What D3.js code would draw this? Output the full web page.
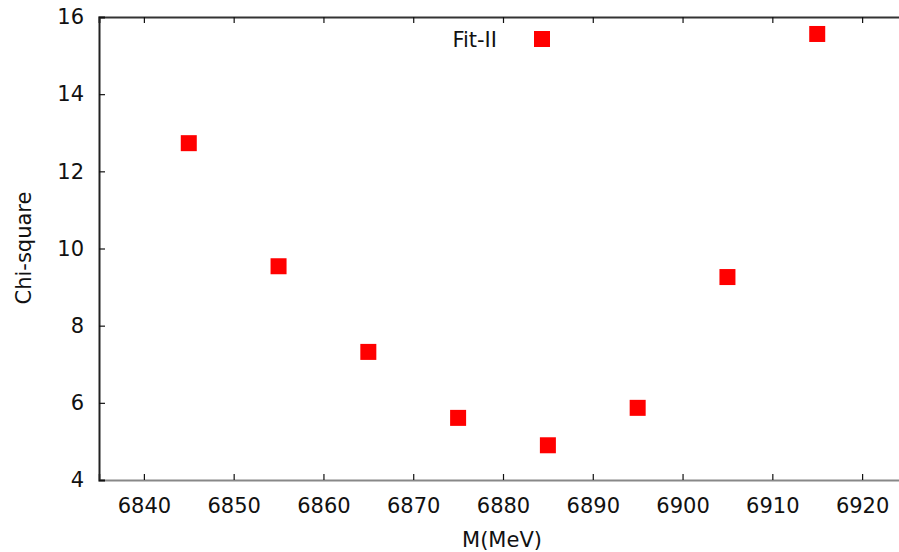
<!DOCTYPE html>
<html lang="en">
<head>
    <meta charset="UTF-8">
    <script src="https://d3js.org/d3.v7.min.js"></script>
    <style>
        body { margin: 0; background: #fff; }
        text { font-family: "DejaVu Sans", sans-serif; fill: #111; }
    </style>
</head>
<body>
<div id="chart"></div>
<script>
    // data
    var masses = [6845, 6855, 6865, 6875, 6885, 6895, 6905, 6915];
    var chiSquare = [12.73, 9.54, 7.32, 5.61, 4.90, 5.87, 9.26, 15.56];
    var xTicks = [6840, 6850, 6860, 6870, 6880, 6890, 6900, 6910, 6920];
    var yTicks = [4, 6, 8, 10, 12, 14, 16];
    var seriesName = "Fit-II";

    var width = 899,
        height = 552;
    var plotLeft = 99, plotTop = 17, plotBottom = 480, plotRight = 907;
    var fontSize = "21px";

    var svg = d3.select("#chart")
        .append("svg")
        .attr("width", width)
        .attr("height", height);

    var x = d3.scaleLinear().domain([6835, 6925]).range([plotLeft, plotRight]);
    var y = d3.scaleLinear().domain([4, 16]).range([plotBottom, plotTop]);

    /* axes, gnuplot style: ticks point inward */
    var xAxis = svg.append("g")
        .attr("transform", "translate(0," + plotBottom + ")")
        .call(d3.axisBottom(x).tickValues(xTicks).tickSize(-6).tickPadding(14).tickFormat(d3.format("d")));
    xAxis.select(".domain").attr("stroke", "#888").attr("stroke-width", 2);

    var xTop = svg.append("g")
        .attr("transform", "translate(0," + plotTop + ")")
        .call(d3.axisTop(x).tickValues(xTicks).tickSize(-6).tickFormat(""));
    xTop.select(".domain").attr("stroke", "#333").attr("stroke-width", 2);

    var yAxis = svg.append("g")
        .attr("transform", "translate(" + plotLeft + ",0)")
        .call(d3.axisLeft(y).tickValues(yTicks).tickSize(-6).tickPadding(15));
    yAxis.select(".domain").attr("stroke", "#222").attr("stroke-width", 2);

    svg.selectAll(".tick line").attr("stroke", "#111").attr("stroke-width", 1.2);
    svg.selectAll(".tick text")
        .style("font-family", "'DejaVu Sans', sans-serif")
        .style("font-size", fontSize)
        .attr("fill", "#111");
    xAxis.selectAll(".tick text").attr("dy", "0.71em").attr("y", 18);

    /* axis titles */
    svg.append("text")
        .attr("x", 502)
        .attr("y", 547)
        .attr("text-anchor", "middle")
        .style("font-size", fontSize)
        .text("M(MeV)");

    svg.append("text")
        .attr("transform", "translate(31,248) rotate(-90)")
        .attr("text-anchor", "middle")
        .style("font-size", fontSize)
        .text("Chi-square");

    /* points */
    var size = 16;
    svg.selectAll("rect.pt")
        .data(masses)
        .enter()
        .append("rect")
        .attr("class", "pt")
        .attr("x", function (d) { return x(d) - size / 2; })
        .attr("y", function (d, i) { return y(chiSquare[i]) - size / 2; })
        .attr("width", size)
        .attr("height", size)
        .style("fill", "#ff0000");

    /* key */
    svg.append("text")
        .attr("x", 497)
        .attr("y", 47)
        .attr("text-anchor", "end")
        .style("font-size", fontSize)
        .text(seriesName);
    svg.append("rect")
        .attr("x", 534)
        .attr("y", 31)
        .attr("width", size)
        .attr("height", size)
        .style("fill", "#ff0000");
</script>
</body>
</html>
